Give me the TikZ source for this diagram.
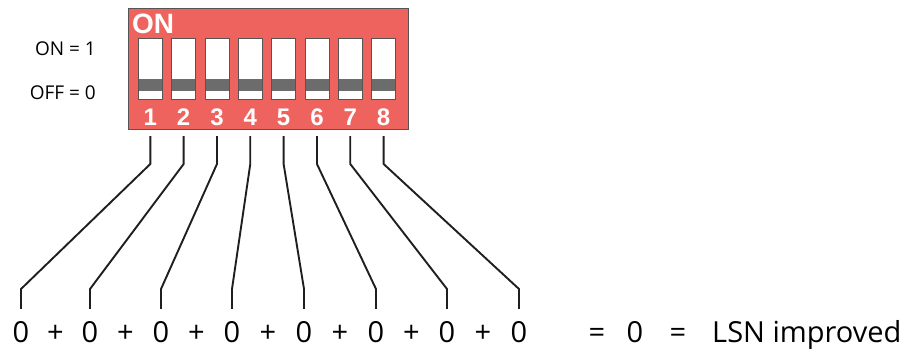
\documentclass[tikz,border=0pt]{standalone}
\usepackage{fontspec}
\setmainfont{Open Sans}
\newfontfamily\dipfont{Liberation Sans}
\usetikzlibrary{positioning}

\definecolor{dipred}{RGB}{239,99,94}
\definecolor{slider}{RGB}{108,108,108}
\definecolor{rim}{RGB}{85,85,85}

\tikzset{
  dipbox/.style={draw=rim, fill=dipred, line width=0.8pt, minimum width=280pt, minimum height=121pt, inner sep=0pt},
  switchbox/.style={draw=rim, fill=white, line width=0.8pt, minimum width=24pt, minimum height=60.6pt, inner sep=0pt,
    path picture={\fill[slider] ([yshift=8pt]path picture bounding box.south west) rectangle ([yshift=20.6pt]path picture bounding box.south east);}},
  numlabel/.style={text=white, font=\dipfont\bfseries\fontsize{24}{26}\selectfont, anchor=base, inner sep=0pt},
  sidelabel/.style={font=\fontsize{19}{22}\selectfont, anchor=east, inner sep=0pt},
  bitlabel/.style={font=\fontsize{29}{32}\selectfont, anchor=base, inner sep=0pt, text height=20pt},
  wire/.style={line width=1.9pt, draw=black!88, line join=miter}
}

\begin{document}
\begin{tikzpicture}[x=1pt,y=-1pt]
\useasboundingbox (0,0) rectangle (909,351);

% the DIP switch
\node[dipbox] (dip) at (268,68.8) {};
\node[text=white, font=\dipfont\bfseries\fontsize{28}{30}\selectfont, anchor=base west, inner sep=0pt] (on) at (132,33) {ON};
\node[sidelabel] (one) at (96,49) {ON = 1};
\node[sidelabel] (zero) at (96,93) {OFF = 0};

\foreach \i in {1,...,8} {
  \node[switchbox] (s\i) at ({150.3+33.33*(\i-1)},69) {};
  \node[numlabel] (n\i) at ({150.3+33.33*(\i-1)},125) {\i};
  \coordinate (t\i) at ({150.3+33.33*(\i-1)},136);
}

% bits on the bottom line
\foreach \i/\x in {1/21,2/90,3/161,4/232,5/304,6/376,7/447,8/519}
  \node[bitlabel] (b\i) at (\x,342) {0};
\foreach \i/\x in {1/55.5,2/125.5,3/196.5,4/268,5/340,6/411.5,7/483}
  \node[bitlabel] (p\i) at (\x,342) {+};
\node[bitlabel] (eq1) at (597,342) {=};
\node[bitlabel] (sum) at (635,342) {0};
\node[bitlabel] (eq2) at (678,342) {=};
\node[bitlabel, anchor=base west] (lsn) at (712,342) {LSN improved};

% wires from switches to bits
\foreach \i in {1,...,8}
  \draw[wire, shorten >=13pt] (t\i) -- ++(0,28) -- (b\i.north |- 0,289) -- (b\i.north);

\end{tikzpicture}
\end{document}
